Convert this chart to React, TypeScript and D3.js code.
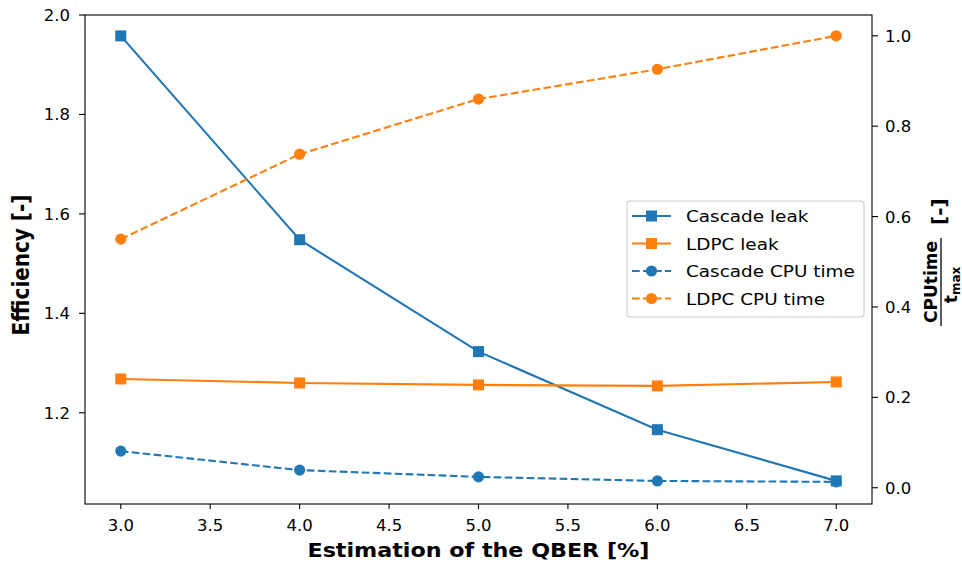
import * as d3 from 'd3';

const qber = [3.0, 4.0, 5.0, 6.0, 7.0];
const cascadeLeak = [1.958, 1.548, 1.323, 1.166, 1.063];
const ldpcLeak = [1.268, 1.26, 1.256, 1.254, 1.262];
const cascadeCpu = [0.081, 0.039, 0.024, 0.015, 0.013];
const ldpcCpu = [0.55, 0.738, 0.86, 0.926, 1.0];

const xTicks = [3.0, 3.5, 4.0, 4.5, 5.0, 5.5, 6.0, 6.5, 7.0];
const leftTicks = [1.2, 1.4, 1.6, 1.8, 2.0];
const rightTicks = [0.0, 0.2, 0.4, 0.6, 0.8, 1.0];

const legendLabels = ['Cascade leak', 'LDPC leak', 'Cascade CPU time', 'LDPC CPU time'];

const blue = '#1f77b4';
const orange = '#ff7f0e';
const font = 'DejaVu Sans';

const W = 962;
const H = 564;
const left = 85, right = 872, top = 15, bottom = 504;

const x = d3.scaleLinear().domain([2.8, 7.2]).range([left, right]);
const yL = d3.scaleLinear().domain([1.0165, 2.0]).range([bottom, top]);
const yR = d3.scaleLinear().domain([-0.036, 1.046]).range([bottom, top]);

// text with a slight horizontal stretch, the reference is a bit wider than tall
function Txt({ x, y, anchor = 'start', size = 16, weight = 'normal', sx = 1.03, children }: any) {
  return (
    <text
      transform={`translate(${x},${y}) scale(${sx},1)`}
      textAnchor={anchor}
      fontSize={size}
      fontWeight={weight}
      fontFamily={font}
      fill="#000"
    >
      {children}
    </text>
  );
}

function Marker({ cx, cy, shape, color }: any) {
  if (shape === 'square') {
    return <rect x={cx - 5.5} y={cy - 5.5} width={11} height={11} fill={color} />;
  }
  return <circle cx={cx} cy={cy} r={5.6} fill={color} />;
}

export default function App() {
  const series = [
    { vals: cascadeLeak, y: yL, color: blue, shape: 'square', dash: null },
    { vals: ldpcLeak, y: yL, color: orange, shape: 'square', dash: null },
    { vals: cascadeCpu, y: yR, color: blue, shape: 'circle', dash: '7.7,3.3' },
    { vals: ldpcCpu, y: yR, color: orange, shape: 'circle', dash: '7.7,3.3' },
  ];

  const rowY = [216, 243.5, 271, 298.5];

  return (
    <div style={{ position: 'absolute', left: 0, top: 0 }}>
      <svg width={W} height={H} style={{ display: 'block', background: '#fff' }}>
        {series.map((s, i) => {
          const line = d3.line<number>().x((_, j) => x(qber[j])).y((d) => s.y(d));
          return (
            <g key={i}>
              <path
                d={line(s.vals) || ''}
                fill="none"
                stroke={s.color}
                strokeWidth={2.1}
                strokeDasharray={s.dash || undefined}
              />
              {s.vals.map((v, j) => (
                <Marker key={j} cx={x(qber[j])} cy={s.y(v)} shape={s.shape} color={s.color} />
              ))}
            </g>
          );
        })}

        <rect x={left} y={top} width={right - left} height={bottom - top} fill="none" stroke="#000" strokeWidth={1.1} />

        {xTicks.map((t) => (
          <g key={t}>
            <line x1={x(t)} x2={x(t)} y1={bottom} y2={bottom + 5} stroke="#000" strokeWidth={1.1} />
            <Txt x={x(t)} y={531} anchor="middle">{t.toFixed(1)}</Txt>
          </g>
        ))}

        {leftTicks.map((t) => (
          <g key={t}>
            <line x1={left - 6} x2={left} y1={yL(t)} y2={yL(t)} stroke="#000" strokeWidth={1.1} />
            <Txt x={70} y={yL(t) + 6} anchor="end">{t.toFixed(1)}</Txt>
          </g>
        ))}

        {rightTicks.map((t) => (
          <g key={t}>
            <line x1={right} x2={right + 6} y1={yR(t)} y2={yR(t)} stroke="#000" strokeWidth={1.1} />
            <Txt x={885} y={yR(t) + 6}>{t.toFixed(1)}</Txt>
          </g>
        ))}

        <Txt x={(left + right) / 2} y={557} anchor="middle" size={19.5} weight="bold" sx={1.14}>
          Estimation of the QBER [%]
        </Txt>
        <text
          transform={`translate(29,265) rotate(-90) scale(1,1.12)`}
          textAnchor="middle"
          fontSize={20}
          fontWeight="bold"
          fontFamily={font}
        >
          Efficiency [-]
        </text>

        <g transform="translate(941,282) rotate(-90)">
          <text x={0} y={-4} textAnchor="middle" fontSize={17} fontWeight="bold" fontFamily={font}>
            CPUtime
          </text>
          <line x1={-44} x2={44} y1={0} y2={0} stroke="#000" strokeWidth={1.3} />
          <text x={-3} y={16} textAnchor="middle" fontSize={17} fontWeight="bold" fontFamily={font}>
            t<tspan fontSize={12} dy={3}>max</tspan>
          </text>
          <text x={57} y={5} fontSize={20} fontWeight="bold" fontFamily={font}>
            [-]
          </text>
        </g>

        <rect x={627} y={201} width={237} height={116} rx={3} fill="#fff" fillOpacity={0.8} stroke="#cccccc" strokeWidth={1.1} />
        {series.map((s, i) => (
          <g key={i}>
            <line
              x1={632}
              x2={671}
              y1={rowY[i]}
              y2={rowY[i]}
              stroke={s.color}
              strokeWidth={2.1}
              strokeDasharray={s.dash || undefined}
            />
            <Marker cx={651.5} cy={rowY[i]} shape={s.shape} color={s.color} />
            <Txt x={686} y={rowY[i] + 6} size={16.3} sx={1.13}>{legendLabels[i]}</Txt>
          </g>
        ))}
      </svg>
    </div>
  );
}
